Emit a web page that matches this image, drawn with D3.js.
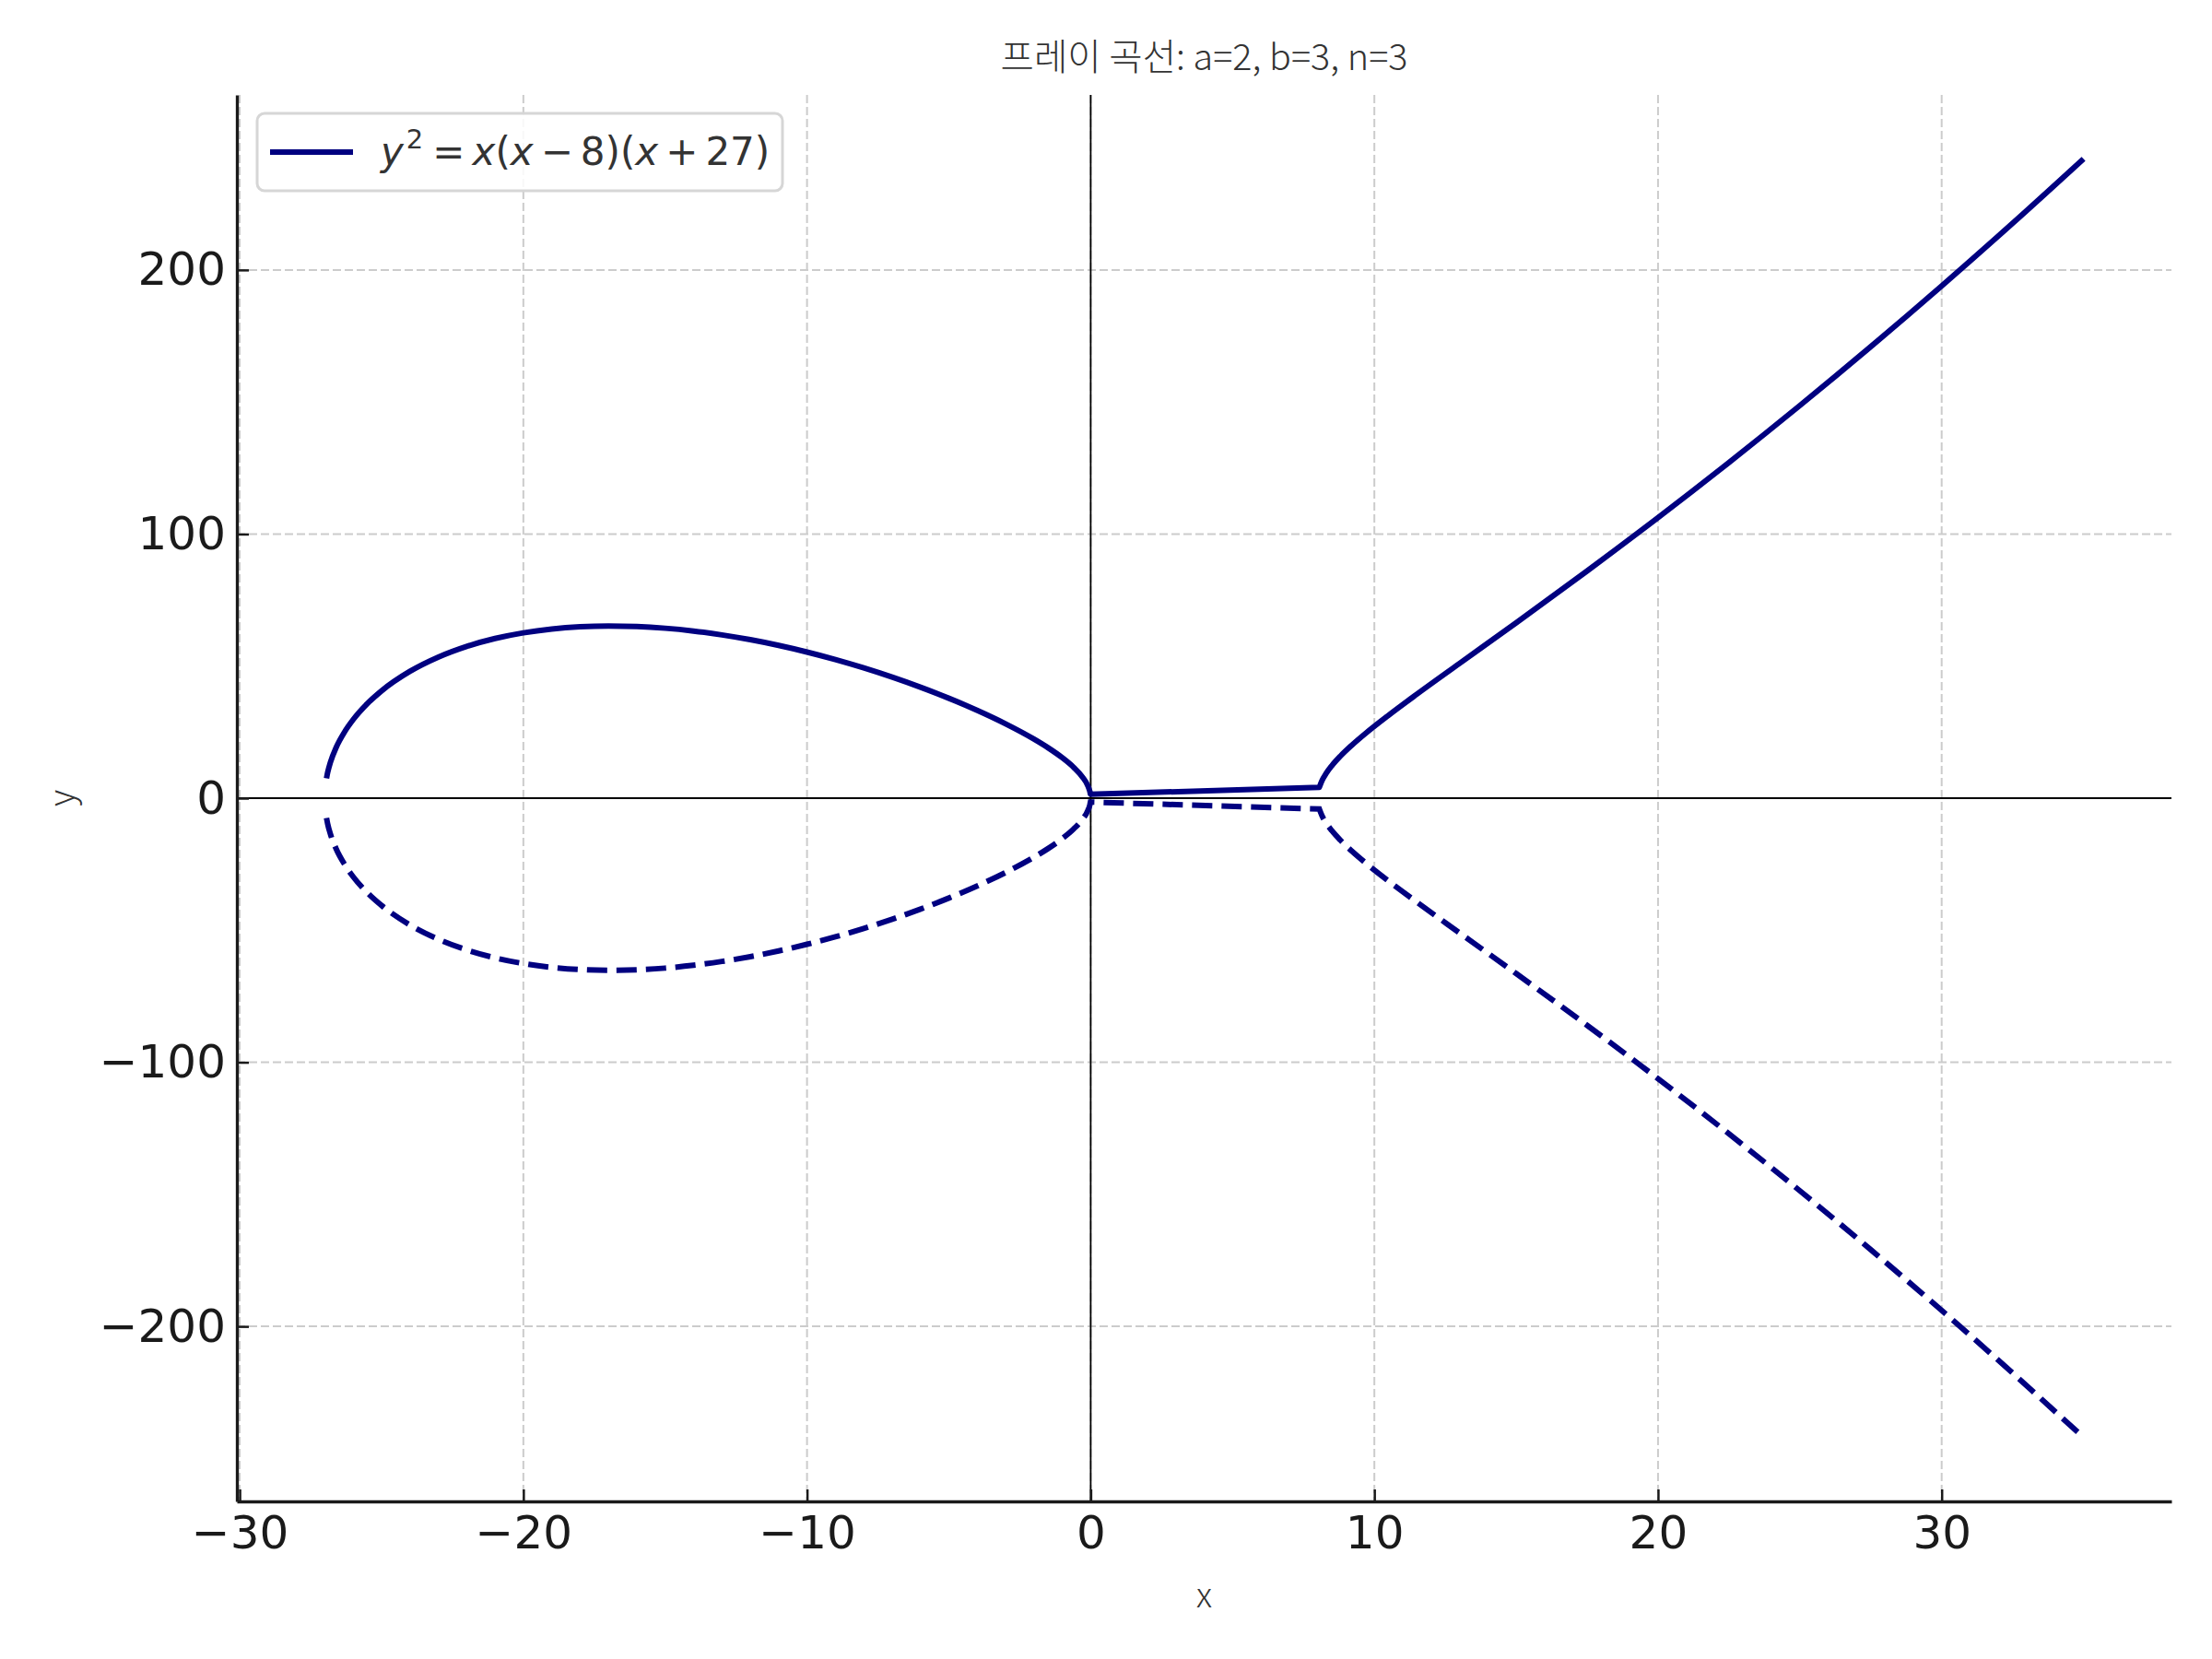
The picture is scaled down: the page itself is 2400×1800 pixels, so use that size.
<!DOCTYPE html>
<html>
<head>
<meta charset="utf-8">
<script src="https://cdn.jsdelivr.net/npm/d3@7"></script>
<style>
  html, body { margin: 0; padding: 0; background: #ffffff; }
  svg { display: block; }
</style>
</head>
<body>
<svg id="chart" width="2400" height="1800"></svg>
<script>
// ---- data ----
const xTicks = [-30, -20, -10, 0, 10, 20, 30];
const yTicks = [-200, -100, 0, 100, 200];

// left loop: sampled x positions and y of the upper (solid) / lower (dashed) halves
const loopX = [
  -26.94, -26.9, -26.8, -26.6, -26.3, -26, -25.5, -25, -24, -23, -22, -21, -20,
  -19, -18, -17, -16, -15, -14, -13, -12, -11, -10, -9, -8, -7, -6, -5, -4, -3,
  -2, -1.5, -1, -0.6, -0.3, -0.1, -0.03, -0.01
];
const loopUpperY = [
  7.52, 9.69, 13.66, 19.19, 25.13, 29.73, 35.80, 40.62, 48.00, 53.40, 57.45, 60.45, 62.61,
  64.06, 64.90, 65.19, 64.99, 64.34, 63.28, 61.82, 60.00, 57.83, 55.32, 52.48, 49.32, 45.83, 42.00, 37.82, 33.23, 28.14,
  22.36, 19.06, 15.30, 11.67, 8.15, 4.67, 2.55, 1.47
];
const loopLowerY = [
  -7.52, -9.69, -13.66, -19.19, -25.13, -29.73, -35.80, -40.62, -48.00, -53.40, -57.45, -60.45, -62.61,
  -64.06, -64.90, -65.19, -64.99, -64.34, -63.28, -61.82, -60.00, -57.83, -55.32, -52.48, -49.32, -45.83, -42.00, -37.82, -33.23, -28.14,
  -22.36, -19.06, -15.30, -11.67, -8.15, -4.67, -2.55, -1.47
];
// right branch
const branchX = [
  8.06, 8.15, 8.3, 8.5, 8.8, 9.2, 9.7, 10.5, 11.5, 13, 15, 17.5, 20, 22.5, 25,
  27.5, 30, 32.5, 35
];
const branchUpperY = [
  4.12, 6.56, 9.37, 12.28, 15.88, 19.99, 24.60, 31.37, 39.37, 50.99, 66.41, 86.01, 106.21, 127.08, 148.66,
  170.95, 193.96, 217.66, 242.05
];
const branchLowerY = [
  -4.12, -6.56, -9.37, -12.28, -15.88, -19.99, -24.60, -31.37, -39.37, -50.99, -66.41, -86.01, -106.21, -127.08, -148.66,
  -170.95, -193.96, -217.66, -242.05
];
const xDomain = [-30.1, 38.1];
const yDomain = [-266.26, 266.26];
const titleText = "프레이 곡선: a=2, b=3, n=3";

(function () {
  // ---- layout ----
  const L = 257, R = 2356, T = 103, B = 1629;
  const svg = d3.select("#chart");
  const x = d3.scaleLinear().domain(xDomain).range([L, R]);
  const y = d3.scaleLinear().domain(yDomain).range([B, T]);
  const navy = "#000080";

  // grid
  const grid = svg.append("g");
  grid.selectAll("line.gx").data(xTicks).join("line").attr("class", "gx")
    .attr("x1", d => x(d)).attr("x2", d => x(d))
    .attr("y1", T).attr("y2", B)
    .attr("stroke", "#cccccc").attr("stroke-width", 2).attr("stroke-dasharray", "9,4");
  grid.selectAll("line.gy").data(yTicks).join("line").attr("class", "gy")
    .attr("x1", L).attr("x2", R)
    .attr("y1", d => y(d)).attr("y2", d => y(d))
    .attr("stroke", "#cccccc").attr("stroke-width", 2).attr("stroke-dasharray", "9,4");

  // zero lines
  svg.append("line").attr("x1", L).attr("x2", R).attr("y1", y(0)).attr("y2", y(0))
    .attr("stroke", "#000").attr("stroke-width", 1.8);
  svg.append("line").attr("x1", x(0)).attr("x2", x(0)).attr("y1", T).attr("y2", B)
    .attr("stroke", "#000").attr("stroke-width", 1.8);

  // curves: smooth loop + straight connector + smooth branch, one path per half
  const line = d3.line().x(d => x(d[0])).y(d => y(d[1])).curve(d3.curveMonotoneX);
  function halfPath(ys1, ys2) {
    const p1 = line(loopX.map((v, i) => [v, ys1[i]]));
    const p2 = line(branchX.map((v, i) => [v, ys2[i]]));
    return p1 + "L" + p2.slice(1);
  }
  svg.append("path").attr("d", halfPath(loopUpperY, branchUpperY)).attr("fill", "none")
    .attr("stroke", navy).attr("stroke-width", 6).attr("stroke-linejoin", "round");
  svg.append("path").attr("d", halfPath(loopLowerY, branchLowerY)).attr("fill", "none")
    .attr("stroke", navy).attr("stroke-width", 6).attr("stroke-dasharray", "22,10");

  // axes
  const xAxis = d3.axisBottom(x).tickValues(xTicks).tickSizeInner(-13).tickSizeOuter(0).tickPadding(15);
  const yAxis = d3.axisLeft(y).tickValues(yTicks).tickSizeInner(-13).tickSizeOuter(0).tickPadding(12);
  const gx = svg.append("g").attr("transform", `translate(0,${B})`).call(xAxis);
  const gy = svg.append("g").attr("transform", `translate(${L},0)`).call(yAxis);
  [gx, gy].forEach(g => {
    g.select(".domain").attr("stroke", "#1a1a1a").attr("stroke-width", 3.3);
    g.selectAll(".tick line").attr("stroke", "#1a1a1a").attr("stroke-width", 2.5);
    g.selectAll(".tick text").attr("fill", "#1a1a1a")
      .style("font-family", "'DejaVu Sans', sans-serif").style("font-size", "50px");
  });

  // title and axis labels
  const cjk = "'Noto Sans CJK KR', 'Noto Sans', sans-serif";
  svg.append("text").attr("x", (L + R) / 2).attr("y", 76).attr("text-anchor", "middle")
    .style("font-family", cjk).style("font-size", "39.5px")
    .style("font-weight", 300).attr("fill", "#333333").text(titleText);
  svg.append("text").attr("x", (L + R) / 2).attr("y", 1744).attr("text-anchor", "middle")
    .style("font-family", cjk).style("font-size", "37px")
    .style("font-weight", 300).attr("fill", "#333333").text("x");
  svg.append("text").attr("transform", `translate(80,${y(0)}) rotate(-90)`).attr("text-anchor", "middle")
    .style("font-family", cjk).style("font-size", "37px")
    .style("font-weight", 300).attr("fill", "#333333").text("y");

  // legend
  const lg = svg.append("g");
  lg.append("rect").attr("x", 279).attr("y", 123).attr("width", 570).attr("height", 84)
    .attr("rx", 8).attr("fill", "#ffffff").attr("fill-opacity", 0.85)
    .attr("stroke", "#d6d6d6").attr("stroke-width", 3);
  lg.append("line").attr("x1", 293).attr("x2", 383).attr("y1", 165).attr("y2", 165)
    .attr("stroke", navy).attr("stroke-width", 6);
  const lt = lg.append("text").attr("x", 413).attr("y", 179).attr("fill", "#333333")
    .style("font-family", "'DejaVu Sans', sans-serif").style("font-size", "42px");
  const gap = 8;
  const parts = [
    { t: "y", it: true },
    { t: "2", sup: true },
    { t: "=", dx: gap + 2 },
    { t: "x", it: true, dx: gap },
    { t: "(" },
    { t: "x", it: true },
    { t: "−", dx: gap },
    { t: "8)(", dx: gap },
    { t: "x", it: true },
    { t: "+", dx: gap },
    { t: "27)", dx: gap }
  ];
  let shifted = false;
  parts.forEach(p => {
    const ts = lt.append("tspan").text(p.t);
    if (p.it) ts.style("font-style", "italic");
    if (p.dx) ts.attr("dx", p.dx);
    if (p.sup) { ts.attr("dy", -18).style("font-size", "29px").attr("dx", 3); shifted = true; }
    else if (shifted) { ts.attr("dy", 18); shifted = false; }
  });
})();
</script>
</body>
</html>
